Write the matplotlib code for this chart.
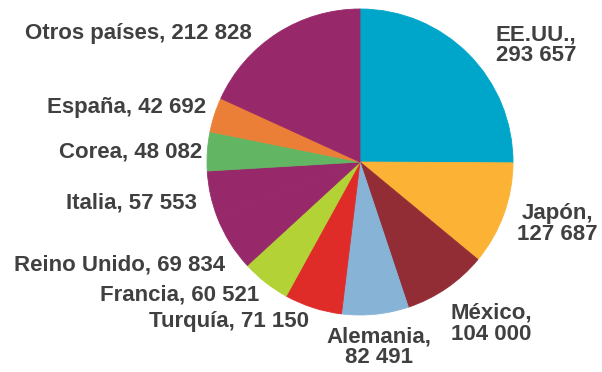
import matplotlib.pyplot as plt

paises = ["EE.UU.", "Japón", "México", "Alemania", "Turquía", "Francia",
          "Reino Unido", "Italia", "Corea", "España", "Otros países"]
valores = [293657, 127687, 104000, 82491, 71150, 60521,
           69834, 57553, 48082, 42692, 212828]
colores = ["#00A6C9", "#FCB235", "#922D35", "#87B3D7", "#DF2C29", "#B2D236",
           "#97296A", "#97296A", "#62B562", "#EC7F38", "#97296A"]

W, H = 602, 372
fig = plt.figure(figsize=(W / 100, H / 100), dpi=100)

# pie centred at (360, 162) px, radius 153 px
cx, cy, r = 360, 162, 153
ax = fig.add_axes([(cx - r) / W, (H - cy - r) / H, 2 * r / W, 2 * r / H])
wedges, _ = ax.pie(valores, colors=colores, startangle=90, counterclock=False,
                   radius=1.0, wedgeprops={"linewidth": 0.6})
for w in wedges:
    w.set_edgecolor(w.get_facecolor())
ax.set_xlim(-1, 1)
ax.set_ylim(-1, 1)
ax.set_aspect("equal")
ax.axis("off")


def fmt(v):
    return f"{v:,}".replace(",", " ")


# label placement in pixels: (x, y from top, horizontal alignment, two lines?)
pos = {
    "EE.UU.": (536, 45, "center", True),
    "Japón": (557, 224, "center", True),
    "México": (491, 324, "center", True),
    "Alemania": (379, 347, "center", True),
    "Turquía": (309, 321, "right", False),
    "Francia": (259, 295, "right", False),
    "Reino Unido": (225, 265, "right", False),
    "Italia": (197, 203, "right", False),
    "Corea": (202, 152, "right", False),
    "España": (206, 108, "right", False),
    "Otros países": (252, 33, "right", False),
}

for p, v in zip(paises, valores):
    x, y, ha, dos = pos[p]
    sep = ",\n" if dos else ", "
    fig.text(x / W, 1 - y / H, p + sep + fmt(v), ha=ha, va="center",
             multialignment="center", fontsize=16, fontweight="bold",
             color="#404040", family=["Liberation Sans", "DejaVu Sans"],
             linespacing=1.0)

fig.savefig("out.png", dpi=100)
